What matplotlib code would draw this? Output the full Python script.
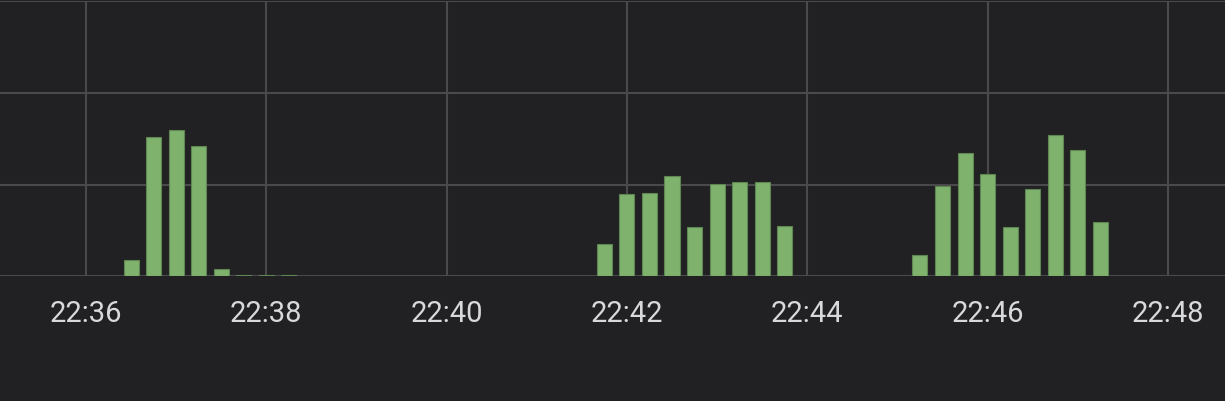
import pandas as pd
import numpy as np
import matplotlib.pyplot as plt
import matplotlib.dates as mdates

# data (15 s buckets, y in grid units of 10)
starts = ["22:36:30", "22:41:45", "22:45:15"]
group1 = [1.8, 15.2, 16.0, 14.2, 0.8, 0.12, 0.12, 0.12]
group2 = [3.5, 9.0, 9.1, 10.9, 5.4, 10.1, 10.3, 10.3, 5.5]
group3 = [2.3, 9.8, 13.5, 11.2, 5.4, 9.5, 15.4, 13.8, 5.9]

times = []
values = []
for start, grp in zip(starts, [group1, group2, group3]):
    t0 = pd.Timestamp("2024-01-01 " + start)
    times += [t0 + pd.Timedelta(seconds=15 * i) for i in range(len(grp))]
    values += grp

bg = "#212124"
grid = "#4a4a4c"

fig = plt.figure(figsize=(12.25, 4.01), dpi=100, facecolor=bg)
ax = fig.add_axes([0, 0.3105, 1, 0.6870])
ax.set_facecolor(bg)

width = 10 / 86400  # 10 s in days
ax.bar(mdates.date2num(times), values, width=width, color="#7eb26d",
       edgecolor="#5e8552", linewidth=0.8, zorder=3)

x0 = pd.Timestamp("2024-01-01 22:35:02.8")
x1 = pd.Timestamp("2024-01-01 22:48:38")
ax.set_xlim(mdates.date2num(x0), mdates.date2num(x1))
ax.set_ylim(0, 30)

ax.xaxis.set_major_locator(mdates.MinuteLocator(byminute=range(0, 60, 2)))
ax.xaxis.set_major_formatter(mdates.DateFormatter("%H:%M"))
ax.set_yticks([0, 10, 20, 30])
ax.set_yticklabels([])

ax.grid(True, color=grid, linewidth=1.5, zorder=0)
for s in ax.spines.values():
    s.set_visible(False)
ax.tick_params(axis="x", length=0, pad=17, labelsize=21, labelcolor="#d8d9da")
ax.tick_params(axis="y", length=0)
for lbl in ax.get_xticklabels():
    lbl.set_fontfamily("Roboto")

fig.savefig("out.png", dpi=100, facecolor=bg)
